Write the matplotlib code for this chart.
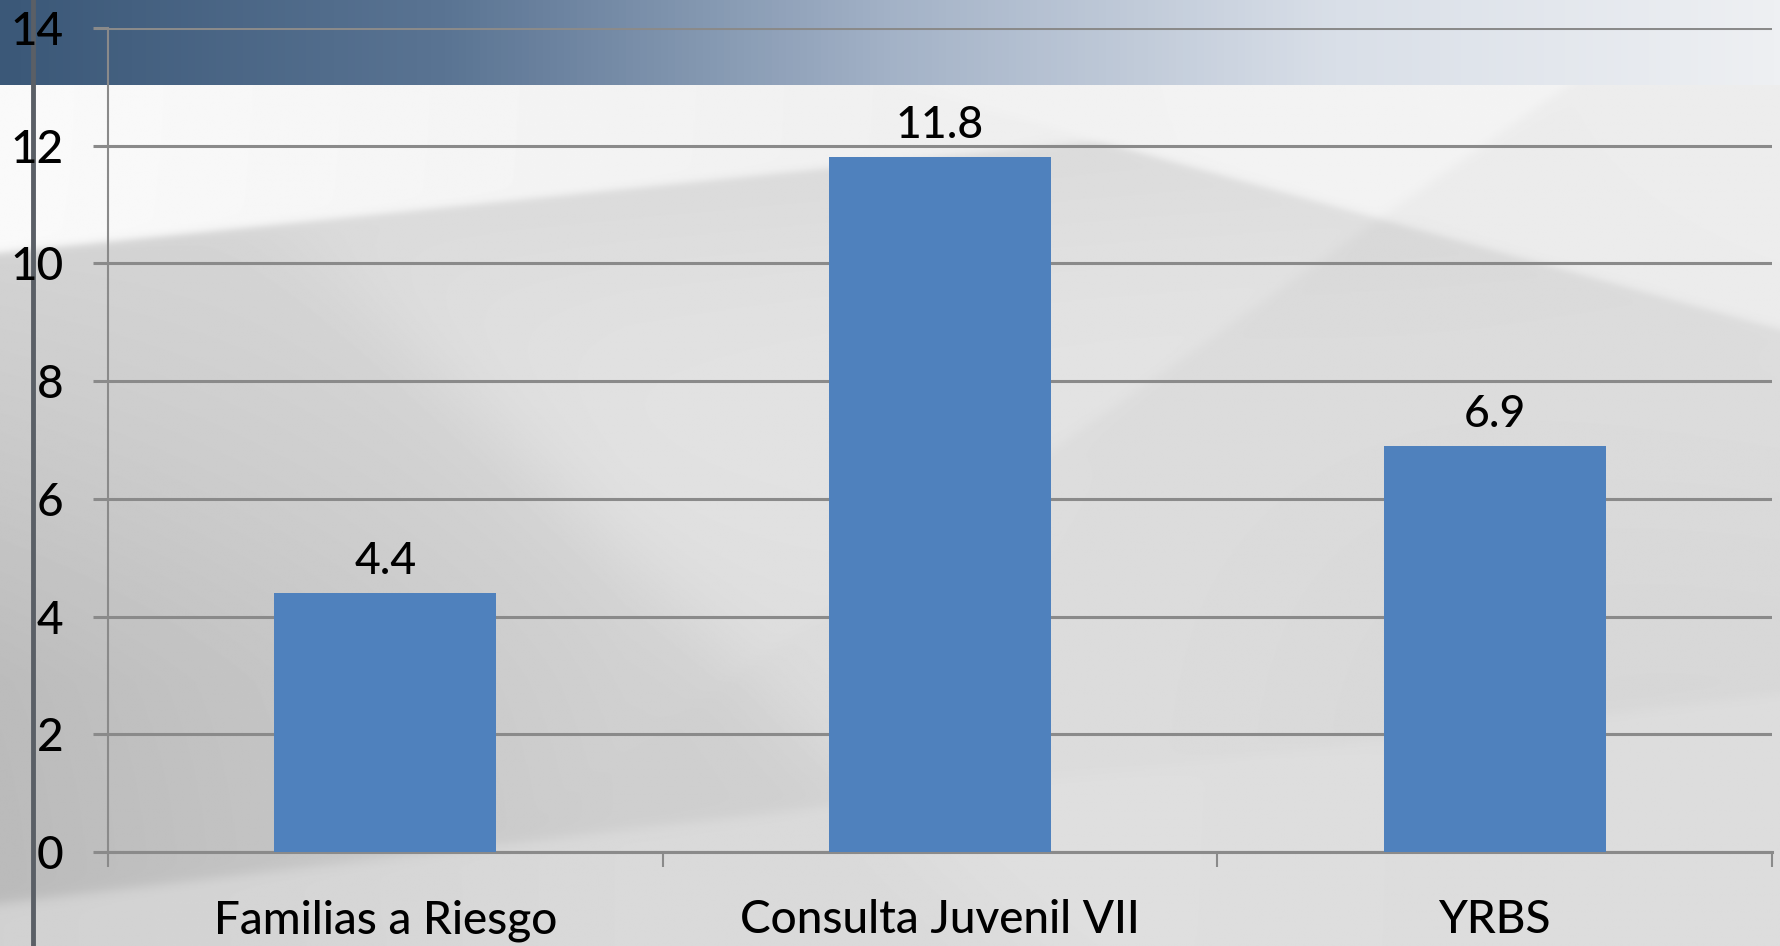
import numpy as np
import matplotlib.pyplot as plt
from matplotlib.colors import LinearSegmentedColormap

categories = ['Familias a Riesgo', 'Consulta Juvenil VII', 'YRBS']
values = [4.4, 11.8, 6.9]
yticks = [0, 2, 4, 6, 8, 10, 12, 14]

plt.rcParams['font.family'] = ['Lato', 'DejaVu Sans']
plt.rcParams['font.weight'] = 'medium'

W, H = 1781, 946
fig = plt.figure(figsize=(W / 100, H / 100), dpi=100)


def soft(d, k=3.0):
    # smooth 0..1 step across a line, d = signed distance in px
    return 1 / (1 + np.exp(-d / k))


def side(X, Y, p, q):
    # signed distance of each pixel from the line p->q
    (x1, y1), (x2, y2) = p, q
    n = np.hypot(x2 - x1, y2 - y1)
    return ((x2 - x1) * (Y - y1) - (y2 - y1) * (X - x1)) / n


# background template (light grey panel with soft facets), 1568x833 grid
X, Y = np.meshgrid(np.arange(1568), np.arange(833))
v = 0.80 + 0.03 * X / 1568 - 0.07 * np.clip(1 - X / 550, 0, 1) * np.clip((Y - 200) / 400, 0, 1)
# lighter facet right of the long diagonal
v += 0.05 * soft(-side(X, Y, (130, 75), (700, 640)), 20) * soft(Y - 200, 60)
# upper-left light wedge
m = soft(-side(X, Y, (0, 222), (1000, 120)), 2)
v = v * (1 - m) + (0.95 - 0.05 * X / 1000) * m
# upper-right light wedge
m = soft(-side(X, Y, (790, 75), (1568, 290)), 2) * soft(X - 780, 2)
v = v * (1 - m) + (0.90 + 0.03 * X / 1568) * m
# right facet
v += 0.03 * soft(side(X, Y, (1380, 75), (950, 380)), 3) * soft(500 - Y, 80)
v -= 0.04 * soft(X - 1150, 120) * soft(Y - 400, 80)
# bottom light band
m = soft(side(X, Y, (0, 795), (1100, 665)), 3)
v = v * (1 - 0.6 * m) + 0.88 * 0.6 * m
v = np.clip(v, 0, 1)

bg = fig.add_axes([0, 0, 1, 1], zorder=-5)
bg.set_xlim(0, 1568)
bg.set_ylim(833, 0)
bg.axis('off')
bg.imshow(v, extent=[0, 1568, 833, 0], cmap='gray', vmin=0, vmax=1, aspect='auto',
          interpolation='bilinear', zorder=0)
grad = np.linspace(0, 1, 256).reshape(1, -1)
hdr = LinearSegmentedColormap.from_list('hdr', ['#3b5878', '#5a7493', '#a3b2c7', '#d9dfe8', '#eef0f3'])
bg.imshow(grad, extent=[0, 1568, 75, 0], cmap=hdr, aspect='auto', zorder=2)
bg.plot([29, 29], [0, 833], color='#5a5f66', lw=3.5, zorder=3)

# chart
ax = fig.add_axes([108 / W, (H - 852) / H, (1772 - 108) / W, (852 - 28) / H])
ax.patch.set_alpha(0)
x = np.arange(len(categories))
bars = ax.bar(x, values, width=0.4, color='#4f81bd', zorder=3)
for b, val in zip(bars, values):
    ax.annotate(str(val), (b.get_x() + b.get_width() / 2, val), xytext=(0, 8),
                textcoords='offset points', ha='center', va='bottom', fontsize=32, color='black')

ax.set_xlim(-0.5, len(categories) - 0.5)
ax.set_ylim(0, 14)
ax.set_yticks(yticks)
ax.set_yticklabels([str(t) for t in yticks], fontsize=33)
ax.yaxis.grid(True, color='#8a8a8a', lw=2.2, zorder=1)
ax.set_axisbelow(True)
ax.tick_params(axis='y', length=11, width=2.2, color='#8a8a8a', pad=21)

ax.set_xticks(x)
ax.set_xticklabels(categories, fontsize=33)
ax.set_xticks(np.arange(-0.5, len(categories)), minor=True)
ax.tick_params(axis='x', which='major', length=0, pad=34)
ax.tick_params(axis='x', which='minor', length=11, width=1.5, color='#8a8a8a')

for s in ['top', 'right']:
    ax.spines[s].set_visible(False)
ax.spines['left'].set_color('#8a8a8a')
ax.spines['left'].set_linewidth(1.5)
ax.spines['bottom'].set_color('#8a8a8a')
ax.spines['bottom'].set_linewidth(2.2)

fig.savefig('out.png', dpi=100)
